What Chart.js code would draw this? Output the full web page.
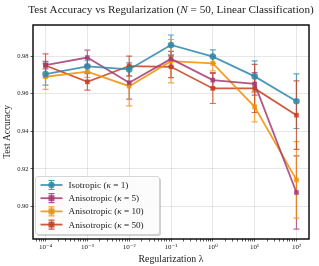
<!DOCTYPE html>
<html>
<head>
<meta charset="utf-8">
<script src="https://cdn.jsdelivr.net/npm/chart.js@4.4.0/dist/chart.umd.min.js"></script>
<style>
  html, body { margin: 0; padding: 0; background: #fff; }
  #wrap { width: 319px; height: 266px; }
</style>
</head>
<body>
<div id="wrap"><canvas id="chartOne"></canvas></div>
<script>
// regularization strengths (x-axis)
var lambdas = [1e-4, 1e-3, 1e-2, 1e-1, 1, 10, 100];
// mean test accuracy and error for each setting
var iso = [0.9704, 0.9745, 0.9729, 0.9859, 0.9797, 0.9692, 0.9560];
var isoErr = [0.0058, 0.0030, 0.0035, 0.0053, 0.0036, 0.0082, 0.0145];
var an5 = [0.9752, 0.9792, 0.9658, 0.9785, 0.9672, 0.9652, 0.9075];
var an5Err = [0.0020, 0.0040, 0.0087, 0.0040, 0.0040, 0.0060, 0.0195];
var an10 = [0.9690, 0.9717, 0.9640, 0.9773, 0.9761, 0.9530, 0.9142];
var an10Err = [0.0067, 0.0030, 0.0105, 0.0115, 0.0040, 0.0080, 0.0203];
var an50 = [0.9750, 0.9663, 0.9747, 0.9743, 0.9628, 0.9628, 0.9486];
var an50Err = [0.0062, 0.0044, 0.0053, 0.0058, 0.0080, 0.0128, 0.0182];

var labels = ["Isotropic (\u03BA = 1)", "Anisotropic (\u03BA = 5)", "Anisotropic (\u03BA = 10)", "Anisotropic (\u03BA = 50)"];
var colors = ["#2E86AB", "#A23B72", "#F18F01", "#C73E1D"];
var yTicks = [0.90, 0.92, 0.94, 0.96, 0.98];
var titleText = "Test Accuracy vs Regularization (N = 50, Linear Classification)";

var serif = "'Liberation Serif', 'DejaVu Serif', serif";

function alpha(hex, a) {
  var n = parseInt(hex.slice(1), 16);
  return "rgba(" + (n >> 16) + "," + ((n >> 8) & 255) + "," + (n & 255) + "," + a + ")";
}

function pts(vals) {
  return vals.map(function (v, i) { return { x: lambdas[i], y: v }; });
}

function superscript(n) {
  var map = { "-": "\u207B", "0": "\u2070", "1": "\u00B9", "2": "\u00B2", "3": "\u00B3", "4": "\u2074" };
  return String(n).split("").map(function (c) { return map[c]; }).join("");
}

var series = [iso, an5, an10, an50];
var errs = [isoErr, an5Err, an10Err, an50Err];
var shapes = ["circle", "rect", "rect", "rect"];

var datasets = series.map(function (s, k) {
  return {
    label: labels[k],
    data: pts(s),
    err: errs[k],
    borderColor: alpha(colors[k], 0.85),
    backgroundColor: alpha(colors[k], 0.85),
    borderWidth: 1.8,
    pointStyle: shapes[k],
    pointRadius: 3.3,
    pointBorderWidth: 0,
    fill: false,
    tension: 0
  };
});

// error bars, drawn under the markers
var errorBars = {
  id: "errorBars",
  beforeDatasetsDraw: function (chart) {
    var c = chart.ctx, xs = chart.scales.x, ys = chart.scales.y;
    c.save();
    c.beginPath();
    c.rect(chart.chartArea.left, chart.chartArea.top, chart.chartArea.width, chart.chartArea.height);
    c.clip();
    chart.data.datasets.forEach(function (ds, k) {
      c.strokeStyle = alpha(colors[k], 0.75);
      c.lineWidth = 1.2;
      ds.data.forEach(function (p, i) {
        var x = xs.getPixelForValue(p.x);
        var y1 = ys.getPixelForValue(p.y - ds.err[i]);
        var y2 = ys.getPixelForValue(p.y + ds.err[i]);
        c.beginPath();
        c.moveTo(x, y1); c.lineTo(x, y2);
        c.moveTo(x - 3, y1); c.lineTo(x + 3, y1);
        c.moveTo(x - 3, y2); c.lineTo(x + 3, y2);
        c.stroke();
      });
    });
    c.restore();
  }
};

// draws "label (<italic>k</italic> = n)" style text with italic greek/N
function mixedText(c, txt, x, y, size) {
  var parts = txt.split(/(\u03BA|\bN\b)/);
  parts.forEach(function (p) {
    if (!p) return;
    var it = (p === "\u03BA" || p === "N");
    c.font = (it ? "italic " : "") + size + "px " + serif;
    c.fillText(p, x, y);
    x += c.measureText(p).width;
  });
}
function mixedWidth(c, txt, size) {
  var w = 0;
  txt.split(/(\u03BA|\bN\b)/).forEach(function (p) {
    if (!p) return;
    var it = (p === "\u03BA" || p === "N");
    c.font = (it ? "italic " : "") + size + "px " + serif;
    w += c.measureText(p).width;
  });
  return w;
}

// title over the axes, full black frame and legend inside the plot
var frameLegend = {
  id: "frameLegend",
  afterDraw: function (chart) {
    var c = chart.ctx, a = chart.chartArea;
    c.save();
    c.fillStyle = "#222";
    c.textBaseline = "middle";
    var ts = 11.2;
    var tw = mixedWidth(c, titleText, ts);
    mixedText(c, titleText, (a.left + a.right) / 2 - tw / 2, 10, ts);

    c.strokeStyle = "#000";
    c.lineWidth = 1.4;
    c.strokeRect(a.left, a.top, a.width, a.height);

    var bx = a.left + 2.5, by = a.bottom - 62.5, bw = 124, bh = 58;
    function rr(x, y, w, h, r) {
      c.beginPath();
      c.moveTo(x + r, y);
      c.arcTo(x + w, y, x + w, y + h, r);
      c.arcTo(x + w, y + h, x, y + h, r);
      c.arcTo(x, y + h, x, y, r);
      c.arcTo(x, y, x + w, y, r);
      c.closePath();
    }
    rr(bx + 1.5, by + 1.5, bw, bh, 2.5);
    c.fillStyle = "rgba(0,0,0,0.18)";
    c.fill();
    rr(bx, by, bw, bh, 2.5);
    c.fillStyle = "rgba(255,255,255,0.92)";
    c.fill();
    c.strokeStyle = "#cccccc";
    c.lineWidth = 0.8;
    c.stroke();

    chart.data.datasets.forEach(function (ds, k) {
      var y = by + 8.5 + k * 13.2;
      var col = alpha(colors[k], 0.85);
      c.strokeStyle = col;
      c.lineWidth = 1.8;
      c.beginPath();
      c.moveTo(bx + 5, y); c.lineTo(bx + 27, y);
      c.stroke();
      c.lineWidth = 1.2;
      c.beginPath();
      c.moveTo(bx + 16, y - 4.5); c.lineTo(bx + 16, y + 4.5);
      c.moveTo(bx + 13, y - 4.5); c.lineTo(bx + 19, y - 4.5);
      c.moveTo(bx + 13, y + 4.5); c.lineTo(bx + 19, y + 4.5);
      c.stroke();
      c.fillStyle = col;
      if (k === 0) {
        c.beginPath(); c.arc(bx + 16, y, 3.2, 0, Math.PI * 2); c.fill();
      } else {
        c.fillRect(bx + 13, y - 3, 6, 6);
      }
      c.fillStyle = "#222";
      mixedText(c, ds.label, bx + 33, y + 0.5, 9.2);
    });
    c.restore();
  }
};

var ctx = document.getElementById("chartOne");
var chartOne = new Chart(ctx, {
  type: "line",
  data: { datasets: datasets },
  plugins: [errorBars, frameLegend],
  options: {
    responsive: true,
    maintainAspectRatio: false,
    animation: false,
    layout: { padding: { left: 0, right: 10, top: 25, bottom: 0 } },
    plugins: {
      legend: { display: false },
      tooltip: { enabled: false },
      title: { display: false }
    },
    scales: {
      x: {
        type: "logarithmic",
        min: Math.pow(10, -4.3),
        max: Math.pow(10, 2.3),
        afterBuildTicks: function (scale) {
          var t = [];
          for (var e = -5; e <= 2; e++) {
            for (var m = 1; m <= 9; m++) {
              var v = m * Math.pow(10, e);
              if (v >= scale.min && v <= scale.max) t.push({ value: v, major: m === 1 });
            }
          }
          scale.ticks = t;
        },
        afterFit: function (scale) { scale.height = 27; },
        ticks: {
          autoSkip: false,
          maxRotation: 0,
          color: "#222",
          font: { family: serif, size: 7 },
          padding: 1,
          callback: function (v) {
            var e = Math.round(Math.log10(v));
            return Math.abs(v - Math.pow(10, e)) < 1e-12 * Math.pow(10, e) + 1e-15 ? "10" + superscript(e) : "";
          }
        },
        grid: {
          color: function (c) { return c.tick && c.tick.major ? "rgba(0,0,0,0.12)" : "rgba(0,0,0,0)"; },
          tickColor: "#333",
          borderDash: [2.5, 2.5],
          tickBorderDash: [],
          tickLength: 2.5,
          lineWidth: 0.8
        },
        border: { display: false },
        title: {
          display: true,
          text: "Regularization \u03BB",
          color: "#222",
          font: { family: serif, size: 9.8 },
          padding: { top: 0, bottom: 1 }
        }
      },
      y: {
        min: 0.8828,
        max: 0.9965,
        afterBuildTicks: function (scale) {
          scale.ticks = yTicks.map(function (v) { return { value: v }; });
        },
        afterFit: function (scale) { scale.width = 33; },
        ticks: {
          color: "#222",
          font: { family: serif, size: 6.5 },
          padding: 2,
          callback: function (v) { return v.toFixed(2); }
        },
        grid: {
          color: "rgba(0,0,0,0.12)",
          tickColor: "#333",
          borderDash: [2.5, 2.5],
          tickBorderDash: [],
          tickLength: 2.5,
          lineWidth: 0.8
        },
        border: { display: false },
        title: {
          display: true,
          text: "Test Accuracy",
          color: "#222",
          font: { family: serif, size: 9.4 },
          padding: { top: 2, bottom: 0 }
        }
      }
    }
  }
});
</script>
</body>
</html>
